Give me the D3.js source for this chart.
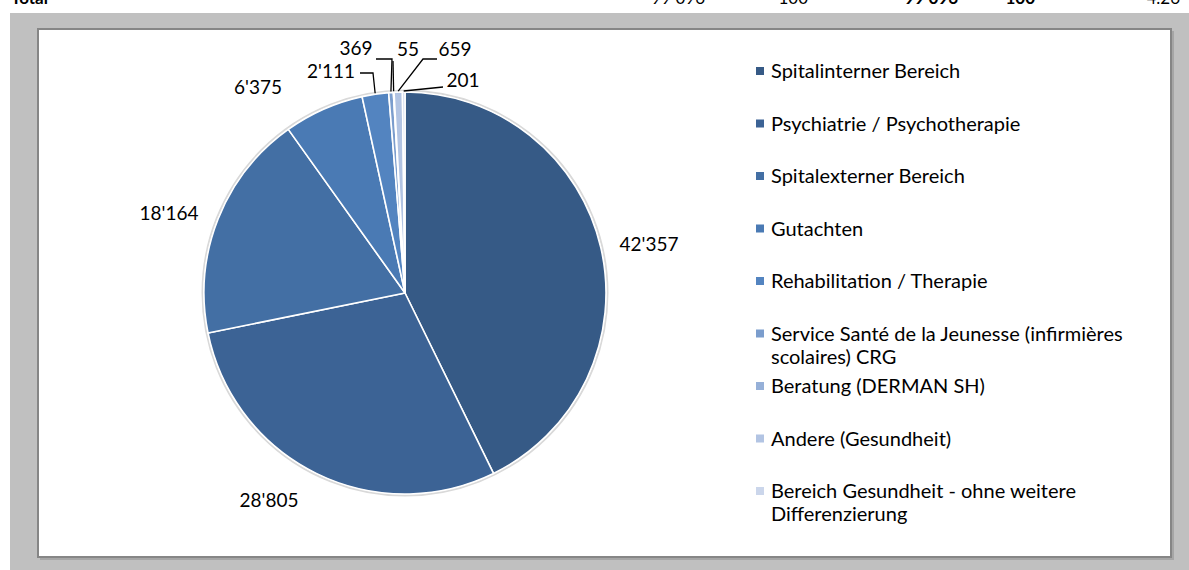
<!DOCTYPE html>
<html>
<head>
<meta charset="utf-8">
<script src="https://cdn.jsdelivr.net/npm/d3@7"></script>
<style>
  body { margin: 0; background: #fff; }
  svg { display: block; font-family: Lato, "Open Sans", sans-serif; }
</style>
</head>
<body>
<div id="chart"></div>
<script>
// categories and values
var categories = [
    "Spitalinterner Bereich",
    "Psychiatrie / Psychotherapie",
    "Spitalexterner Bereich",
    "Gutachten",
    "Rehabilitation / Therapie",
    "Service Santé de la Jeunesse (infirmières scolaires) CRG",
    "Beratung (DERMAN SH)",
    "Andere (Gesundheit)",
    "Bereich Gesundheit - ohne weitere Differenzierung"
];
var values = [42357, 28805, 18164, 6375, 2111, 369, 55, 659, 201];
var valueLabels = ["42'357", "28'805", "18'164", "6'375", "2'111", "369", "55", "659", "201"];
// legend lines (wrapped like the original)
var legendLines = [
    ["Spitalinterner Bereich"],
    ["Psychiatrie / Psychotherapie"],
    ["Spitalexterner Bereich"],
    ["Gutachten"],
    ["Rehabilitation / Therapie"],
    ["Service Santé de la Jeunesse (infirmières", "scolaires) CRG"],
    ["Beratung (DERMAN SH)"],
    ["Andere (Gesundheit)"],
    ["Bereich Gesundheit - ohne weitere", "Differenzierung"]
];
// cut off table row above the chart
var headerCells = ["99 096", "100", "99 096", "100", "4.26"];

var colors = ["#365a86", "#3c6395", "#436fa4", "#4a7ab4", "#5384c0", "#7b9dcd", "#96b0d8", "#b2c4e3", "#cbd6eb"];

var W = 1189, H = 570;
var cx = 405, cy = 293, radius = 201;

// label spots relative to pie centre (Excel best fit positions)
var labelSpots = [[244, -49], [-136, 207], [-236, -80], [-147, -206], [-74, -222], [-49, -245], [3, -244], [50, -244], [58, -213]];
// leader line elbows/ends for the thin slices
var leaders = {
    4: [[-32, -220], [-45, -220]],
    5: [[-13, -234], [-29, -234]],
    6: [[-12, -232], [-12, -232]],
    7: [[18, -234], [32, -234]],
    8: [[38, -206], [38, -206]]
};

var svg = d3.select("#chart").append("svg")
    .attr("width", W)
    .attr("height", H);

// header row, mostly out of view
svg.append("text").attr("x", 11).attr("y", 4)
    .style("font-weight", "bold").style("font-size", "17px").text("Total");
var headerX = [705, 808, 958, 1035, 1180];
headerCells.forEach(function(t, i) {
    svg.append("text").attr("x", headerX[i]).attr("y", 4)
        .attr("text-anchor", "end")
        .style("font-size", "17px")
        .style("font-weight", (i == 2 || i == 3) ? "bold" : "normal")
        .text(t);
});

// grey sheet background
svg.append("rect").attr("x", 10).attr("y", 13).attr("width", W - 10).attr("height", H - 13).attr("fill", "#c0c0c0");

// chart area with shadow
svg.append("rect").attr("x", 40).attr("y", 31).attr("width", 1134).attr("height", 529).attr("fill", "#a6a6a6");
svg.append("rect").attr("x", 38).attr("y", 29).attr("width", 1133).attr("height", 528)
    .attr("fill", "#fff").attr("stroke", "#868686").attr("stroke-width", 2);

var g = svg.append("g").attr("transform", "translate(" + cx + "," + cy + ")");

var pie = d3.pie().sort(null).value(function(d) { return d; });
var arcs = pie(values);
var arc = d3.arc().innerRadius(0).outerRadius(radius);

// soft shadow ring
g.append("circle").attr("r", radius + 1.5).attr("fill", "none")
    .attr("stroke", "#d9d9d9").attr("stroke-width", 2);

g.selectAll("path.slice")
    .data(arcs)
    .enter()
    .append("path")
    .attr("class", "slice")
    .attr("d", arc)
    .attr("fill", function(d, i) { return colors[i]; })
    .attr("stroke", "#fff")
    .attr("stroke-width", 1.6)
    .attr("stroke-linejoin", "round");

// leader lines
function polar(a, r) { return [Math.sin(a) * r, -Math.cos(a) * r]; }
arcs.forEach(function(d, i) {
    if (!leaders[i]) return;
    var mid = (d.startAngle + d.endAngle) / 2;
    var pts = [polar(mid, radius + 1)].concat(leaders[i]);
    g.append("path")
        .attr("d", d3.line()(pts))
        .attr("fill", "none")
        .attr("stroke", "#000")
        .attr("stroke-width", 1.3);
});

// value labels
g.selectAll("text.lbl")
    .data(arcs)
    .enter()
    .append("text")
    .attr("class", "lbl")
    .attr("x", function(d, i) { return labelSpots[i][0]; })
    .attr("y", function(d, i) { return labelSpots[i][1]; })
    .attr("text-anchor", "middle")
    .attr("dy", "0.35em")
    .style("font-size", "19px")
    .attr("fill", "#000")
    .text(function(d, i) { return valueLabels[i]; });

// legend
var legendY = d3.scalePoint().domain(d3.range(categories.length)).range([71, 491]);
var lg = svg.append("g");
categories.forEach(function(c, i) {
    var y = legendY(i);
    lg.append("rect").attr("x", 756).attr("y", y - 4).attr("width", 8).attr("height", 8)
        .attr("fill", colors[i]);
    var t = lg.append("text").attr("x", 771).attr("y", y)
        .style("font-size", "20px").attr("fill", "#000");
    legendLines[i].forEach(function(line, k) {
        t.append("tspan").attr("x", 771).attr("dy", k == 0 ? "0.35em" : "1.15em").text(line);
    });
});
</script>
</body>
</html>
